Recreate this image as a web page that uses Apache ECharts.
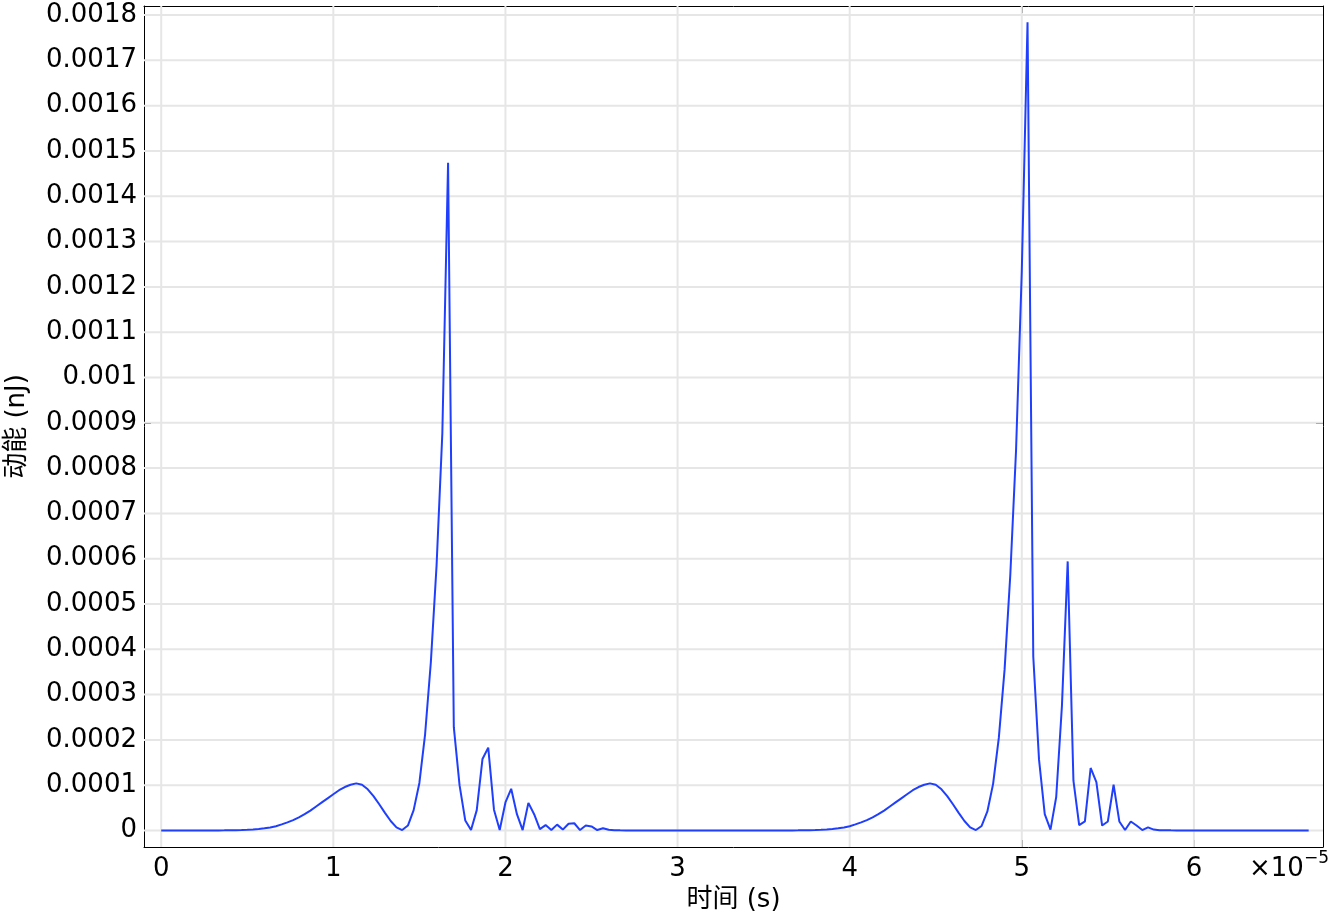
<!DOCTYPE html>
<html>
<head>
<meta charset="utf-8">
<script src="https://cdn.jsdelivr.net/npm/echarts@6/dist/echarts.min.js"></script>
<style>
  html, body { margin: 0; padding: 0; background: #fff; }
  #chart { width: 1331px; height: 915px; }
</style>
</head>
<body>
<div id="chart"></div>
<script>
// Time axis in units of 1e-5 s; one sample every 1/30 (×1e-5 s), 201 samples
const sampleStep = 1 / 30;

// Kinetic energy (nJ), one value per sample
const kineticEnergy = [
  // 0-9
  0, 0, 0, 0, 0, 0, 0, 0, 0, 0,
  // 10-19
  2e-7, 3e-7, 5e-7, 8e-7, 1.2e-6, 1.7e-6, 2.4e-6, 3.4e-6, 4.8e-6, 6.8e-6,
  // 20-29
  9.5e-6, 1.35e-5, 1.8e-5, 2.3e-5, 2.9e-5, 3.6e-5, 4.4e-5, 5.3e-5, 6.2e-5, 7.1e-5,
  // 30-39
  8.0e-5, 8.9e-5, 9.6e-5, 1.01e-4, 1.04e-4, 1.01e-4, 9.1e-5, 7.6e-5, 5.8e-5, 3.9e-5,
  // 40-49
  2.1e-5, 7e-6, 1e-6, 1.1e-5, 4.5e-5, 1.05e-4, 2.13e-4, 3.72e-4, 5.86e-4, 8.77e-4,
  // 50-59
  1.474e-3, 2.28e-4, 1.0e-4, 2.2e-5, 1e-6, 4.5e-5, 1.58e-4, 1.83e-4, 4.6e-5, 1e-6,
  // 60-69
  6.2e-5, 9.2e-5, 3.6e-5, 1e-6, 6.1e-5, 3.6e-5, 3e-6, 1.2e-5, 1e-6, 1.3e-5,
  // 70-79
  2e-6, 1.5e-5, 1.6e-5, 1e-6, 1.1e-5, 9e-6, 1e-6, 5e-6, 1.5e-6, 5e-7,
  // 80-89
  3e-7, 2e-7, 0, 0, 0, 0, 0, 0, 0, 0,
  // 90-99
  0, 0, 0, 0, 0, 0, 0, 0, 0, 0,
  // 100-109
  0, 0, 0, 0, 0, 0, 0, 0, 1e-7, 1e-7,
  // 110-119
  2e-7, 3e-7, 5e-7, 8e-7, 1.2e-6, 1.7e-6, 2.4e-6, 3.4e-6, 4.8e-6, 6.8e-6,
  // 120-129
  9.5e-6, 1.35e-5, 1.8e-5, 2.3e-5, 2.9e-5, 3.6e-5, 4.4e-5, 5.3e-5, 6.2e-5, 7.1e-5,
  // 130-139
  8.0e-5, 8.9e-5, 9.6e-5, 1.01e-4, 1.04e-4, 1.01e-4, 9.1e-5, 7.6e-5, 5.8e-5, 3.9e-5,
  // 140-149
  2.1e-5, 7e-6, 1e-6, 1.0e-5, 4.2e-5, 1.03e-4, 2.05e-4, 3.55e-4, 5.65e-4, 8.40e-4,
  // 150-159
  1.235e-3, 1.784e-3, 3.84e-4, 1.57e-4, 3.6e-5, 2e-6, 7.4e-5, 2.76e-4, 5.94e-4, 1.10e-4,
  // 160-169
  1.2e-5, 2.0e-5, 1.38e-4, 1.07e-4, 1.1e-5, 2.0e-5, 1.01e-4, 2.0e-5, 1e-6, 2.0e-5,
  // 170-179
  1.1e-5, 1e-6, 7e-6, 2e-6, 5e-7, 8e-7, 3e-7, 0, 0, 0,
  // 180-189
  0, 0, 0, 0, 0, 0, 0, 0, 0, 0,
  // 190-199
  0, 0, 0, 0, 0, 0, 0, 0, 0, 0,
  // 200
  0
];

const xTickValues = [0, 1, 2, 3, 4, 5, 6];
const xTickLabels = ['0', '1', '2', '3', '4', '5', '6'];
const yTickValues = [0, 0.0001, 0.0002, 0.0003, 0.0004, 0.0005, 0.0006, 0.0007, 0.0008, 0.0009,
  0.001, 0.0011, 0.0012, 0.0013, 0.0014, 0.0015, 0.0016, 0.0017, 0.0018];
const yTickLabels = ['0', '0.0001', '0.0002', '0.0003', '0.0004', '0.0005', '0.0006', '0.0007', '0.0008', '0.0009',
  '0.001', '0.0011', '0.0012', '0.0013', '0.0014', '0.0015', '0.0016', '0.0017', '0.0018'];

const xName = '时间 (s)';
const yName = '动能 (nJ)';
const xScaleText = '×10';
const xScaleExp = '−5';

const X_MIN = -0.1, X_MAX = 6.75;
const Y_MIN = -0.0000364, Y_MAX = 0.00182;

const seriesData = kineticEnergy.map((e, i) => [i * sampleStep, e]);

function lookupLabel(values, labels, v) {
  let best = 0, bd = Infinity;
  for (let i = 0; i < values.length; i++) {
    const d = Math.abs(values[i] - v);
    if (d < bd) { bd = d; best = i; }
  }
  return labels[best];
}

const FONT = "'DejaVu Sans', 'Noto Sans CJK SC', sans-serif";
const axisLineStyle = { color: '#000', width: 1 };
const gridLineStyle = { color: '#e6e6e6', width: 2 };

// grid lines drawn at the tick values through the axes' own scales
const gridSeries = [
  ...xTickValues.map(v => ({
    type: 'line', xAxisIndex: 0, yAxisIndex: 0, z: 1, silent: true,
    symbol: 'none', showSymbol: false, lineStyle: gridLineStyle,
    emphasis: { disabled: true },
    data: [[v, Y_MIN], [v, Y_MAX]]
  })),
  ...yTickValues.map(v => ({
    type: 'line', xAxisIndex: 0, yAxisIndex: 0, z: 1, silent: true,
    symbol: 'none', showSymbol: false, lineStyle: gridLineStyle,
    emphasis: { disabled: true },
    data: [[X_MIN, v], [X_MAX, v]]
  }))
];

const chart = echarts.init(document.getElementById('chart'), null, { renderer: 'canvas' });

const option = {
  animation: false,
  backgroundColor: '#fff',
  grid: { left: 144, right: 8, top: 6, bottom: 68, containLabel: false, outerBoundsMode: 'none' },
  xAxis: [
    {
      type: 'value', position: 'bottom', min: X_MIN, max: X_MAX,
      axisLine: { show: true, onZero: false, lineStyle: axisLineStyle },
      axisTick: { show: true, inside: true, length: 7, customValues: xTickValues, lineStyle: { color: '#000', width: 1 } },
      axisLabel: {
        show: true, customValues: xTickValues, margin: 9,
        color: '#000', fontSize: 26, fontFamily: FONT,
        formatter: v => lookupLabel(xTickValues, xTickLabels, v)
      },
      splitLine: { show: false },
      name: xName, nameLocation: 'middle', nameGap: 37,
      nameTextStyle: { color: '#000', fontSize: 26, fontFamily: FONT }
    },
    {
      type: 'value', position: 'top', min: X_MIN, max: X_MAX,
      axisLine: { show: true, onZero: false, lineStyle: axisLineStyle },
      axisTick: { show: true, inside: true, length: 7, customValues: xTickValues, lineStyle: { color: '#000', width: 1 } },
      axisLabel: { show: false },
      splitLine: { show: false }
    }
  ],
  yAxis: [
    {
      type: 'value', position: 'left', min: Y_MIN, max: Y_MAX,
      axisLine: { show: true, onZero: false, lineStyle: axisLineStyle },
      axisTick: { show: true, inside: true, length: 7, customValues: yTickValues, lineStyle: { color: '#000', width: 1 } },
      axisLabel: {
        show: true, customValues: yTickValues, margin: 7,
        color: '#000', fontSize: 26, fontFamily: FONT,
        formatter: v => lookupLabel(yTickValues, yTickLabels, v)
      },
      splitLine: { show: false },
      name: yName, nameLocation: 'middle', nameGap: 114,
      nameTextStyle: { color: '#000', fontSize: 26, fontFamily: FONT }
    },
    {
      type: 'value', position: 'right', min: Y_MIN, max: Y_MAX,
      axisLine: { show: true, onZero: false, lineStyle: axisLineStyle },
      axisTick: { show: true, inside: true, length: 7, customValues: yTickValues, lineStyle: { color: '#000', width: 1 } },
      axisLabel: { show: false },
      splitLine: { show: false }
    }
  ],
  series: [
    ...gridSeries,
    {
      name: 'kinetic', type: 'line', xAxisIndex: 0, yAxisIndex: 0, z: 3,
      data: seriesData, showSymbol: false, symbol: 'none', smooth: false,
      lineStyle: { color: '#1f3ffd', width: 2 },
      emphasis: { disabled: true }
    }
  ],
  graphic: [
    {
      type: 'text', left: 1249, top: 856, z: 10, silent: true,
      style: { text: xScaleText, fill: '#000', font: "26px " + FONT }
    },
    {
      type: 'text', left: 1304, top: 850, z: 10, silent: true,
      style: { text: xScaleExp, fill: '#000', font: "17px " + FONT }
    }
  ]
};

chart.setOption(option);
</script>
</body>
</html>
